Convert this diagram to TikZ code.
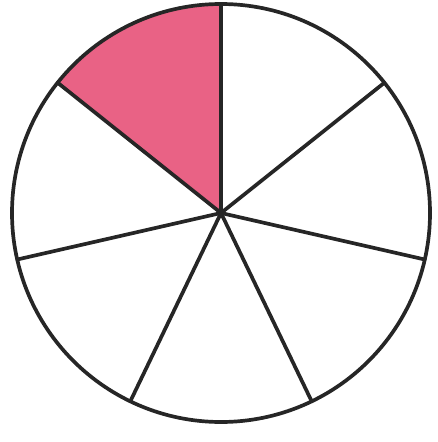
\documentclass[tikz,border=0pt]{standalone}
\definecolor{pinkfill}{RGB}{233,98,133}
\begin{document}
\begin{tikzpicture}[x=0.02cm,y=-0.02cm,
  edge/.style={line width=2.1pt,draw=black!85,line join=round,line cap=round}]
\useasboundingbox (0,0) rectangle (438,442);
\coordinate (c) at (221,213);
\fill[pinkfill] (c) -- +(90:{209*0.02cm}) arc[start angle=90,end angle=141.43,radius=209*0.02cm] -- cycle;
\foreach \i in {0,...,6}{
  \draw[edge] (c) -- +({90-\i*360/7}:{209*0.02cm});
}
\draw[edge] (c) circle[radius=209*0.02cm];
\end{tikzpicture}
\end{document}
